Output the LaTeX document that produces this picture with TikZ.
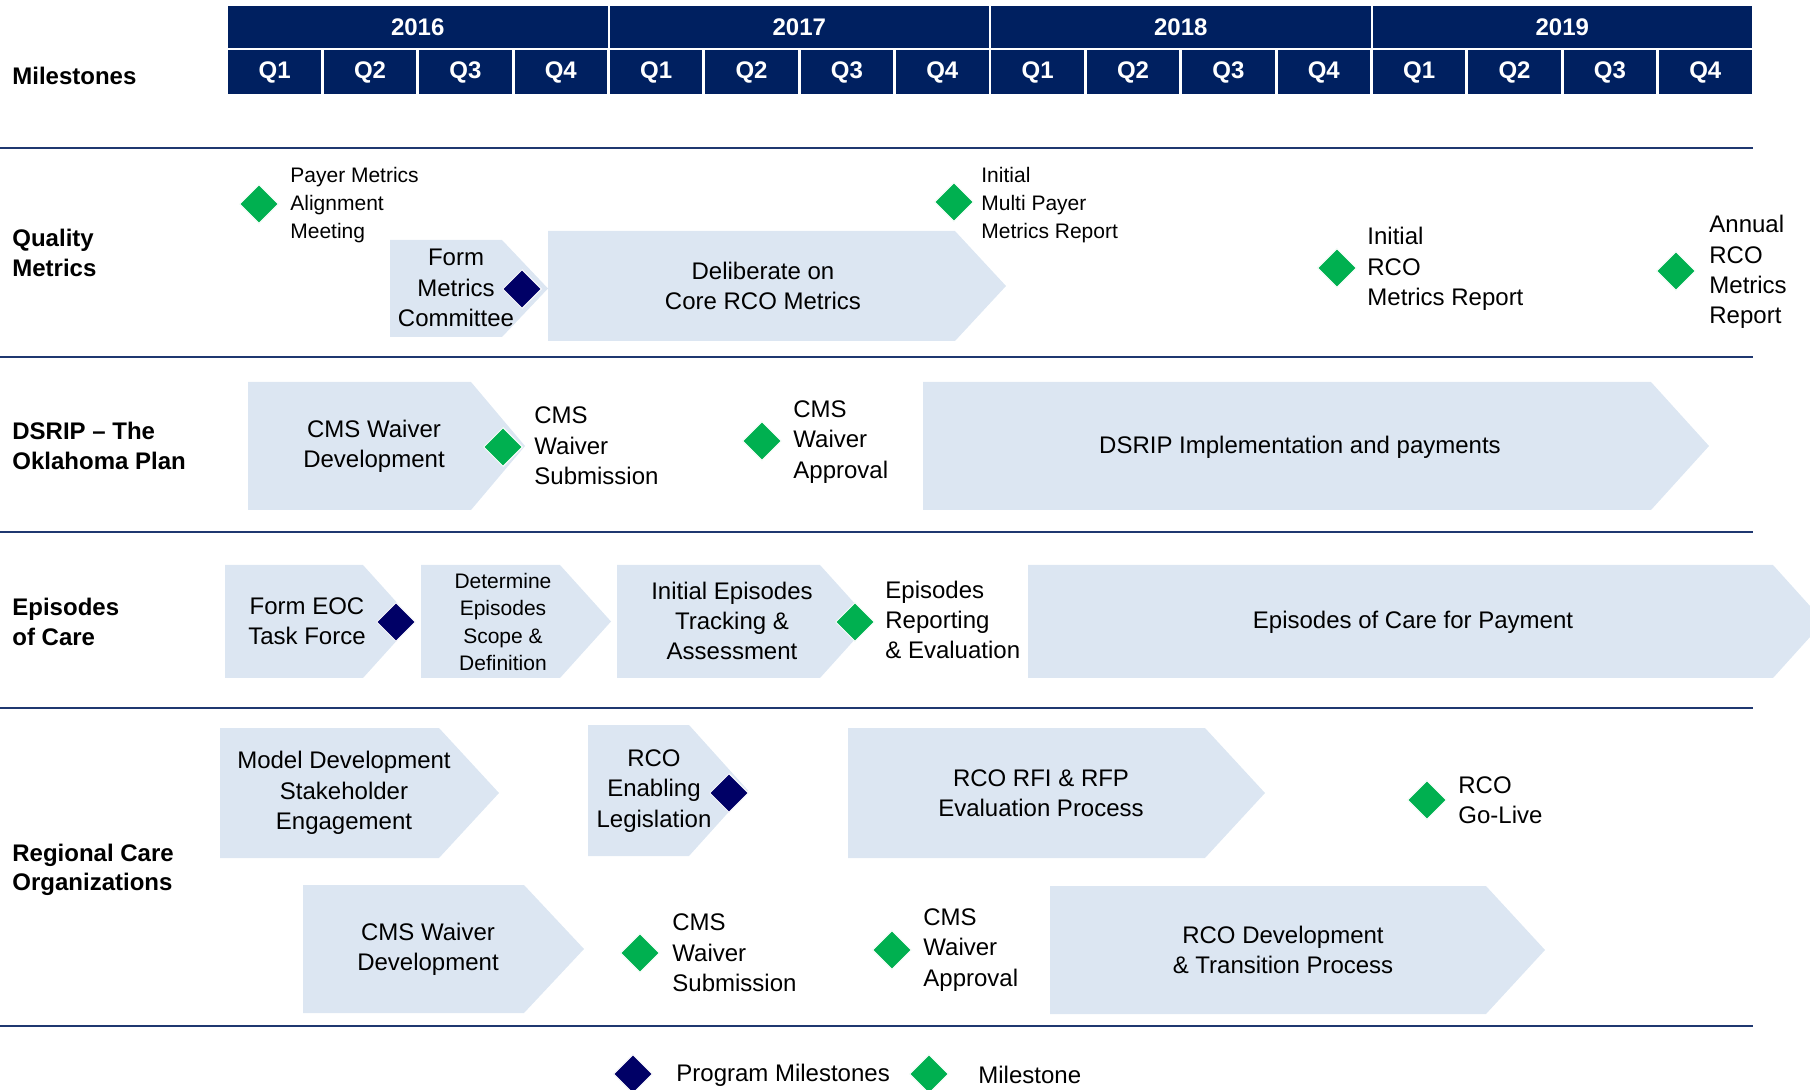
\documentclass[tikz,border=0pt]{standalone}
\usepackage{fontspec}
\setmainfont{Liberation Sans}
\usepackage{tikz}
\usetikzlibrary{shapes.geometric}
\definecolor{hdrblue}{RGB}{0,32,96}
\definecolor{lineblue}{RGB}{31,56,112}
\definecolor{pmblue}{RGB}{0,0,102}
\definecolor{msgreen}{RGB}{0,176,80}
\definecolor{chevfill}{RGB}{220,230,242}
% left, corner, tip, top, bottom
\newcommand{\chev}[5]{\fill[chevfill] (#1,#4) -- (#2,#4) -- (#3,{(#4+#5)/2}) -- (#2,#5) -- (#1,#5) -- cycle;}
\begin{document}
\begin{tikzpicture}[x=0.5pt,y=-0.5pt,
		txt/.style={align=center,font=\fontsize{12}{15.2}\selectfont,inner sep=0pt},
		small/.style={txt,font=\fontsize{10.5}{13.8}\selectfont},
		mstxt/.style={txt,anchor=west,align=left},
		mssmall/.style={small,anchor=west,align=left},
		rowlbl/.style={anchor=west,align=left,inner sep=0pt,font=\bfseries\fontsize{12}{14.75}\selectfont},
		ms/.style={diamond,fill=msgreen,draw=white,line width=0.5pt,minimum width=19.5pt,minimum height=19.5pt,inner sep=0pt},
		pms/.style={ms,fill=pmblue},
		sep/.style={lineblue,line width=1.4pt},
		yrcell/.style={fill=hdrblue,text=white,font=\bfseries\fontsize{12}{14}\selectfont,minimum width=189.75pt,minimum height=21pt,inner sep=0pt},
		qcell/.style={yrcell,minimum width=46.2pt,minimum height=22pt}]
		\useasboundingbox (0,0) rectangle (1810,1090);

		% header
		\foreach \yr [count=\i from 0] in {2016,2017,2018,2019}{
			\node[yrcell] (y\yr) at ({227+381.5*(\i+0.5)},27) {\yr};
			\foreach \q in {1,...,4}
				\node[qcell] (q\yr\q) at ({227+381.5*\i+95.375*(\q-0.5)},72) {Q\q};
		}
		\node[rowlbl] (milestones) at (12,76) {Milestones};
		\foreach \ly in {148,357,532,708,1026}
			\draw[sep] (0,\ly) -- (1753,\ly);

		% row labels
		\node[rowlbl] (quality) at (12,253) {Quality\\Metrics};
		\node[rowlbl] (dsrip) at (12,446) {DSRIP -- The\\Oklahoma Plan};
		\node[rowlbl] (episodes) at (12,622) {Episodes\\of Care};
		\node[rowlbl] (regional) at (12,870) {Regional Care\\Organizations};

		% quality metrics
		\chev{390}{502}{548}{240}{337}
		\node[txt] (formmc) at (456,288) {Form\\Metrics\\Committee};
		\chev{548}{955}{1006}{231}{341}
		\node[txt] (delib) at (763,286) {Deliberate on\\Core RCO Metrics};
		\node[pms] (dformmc) at (522,289) {};
		\node[ms] (dpayer) at (259,204) {};
		\node[mssmall] (payer) at (290,205) {Payer Metrics\\Alignment\\Meeting};
		\node[ms] (dmulti) at (954,202) {};
		\node[mssmall] (multi) at (981,205) {Initial\\Multi Payer\\Metrics Report};
		\node[ms] (drcorep) at (1337,268) {};
		\node[mstxt] (rcorep) at (1367,269) {Initial\\RCO\\Metrics Report};
		\node[ms] (dannual) at (1676,271) {};
		\node[mstxt] (annual) at (1709,272) {Annual\\RCO\\Metrics\\Report};

		% dsrip
		\chev{248}{471}{525}{382}{510}
		\node[txt] (cmsdev) at (374,446) {CMS Waiver\\Development};
		\chev{923}{1651}{1709}{382}{510}
		\node[txt] (dsripimp) at (1300,447) {DSRIP Implementation and payments};
		\node[ms] (dcmssub) at (503,447) {};
		\node[mstxt] (cmssub) at (534,446) {CMS\\Waiver\\Submission};
		\node[ms] (dcmsapp) at (762,441) {};
		\node[mstxt] (cmsapp) at (793,442) {CMS\\Waiver\\Approval};

		% episodes of care
		\chev{225}{363}{414}{565}{678}
		\node[txt] (eoctf) at (307,621) {Form EOC\\Task Force};
		\chev{421}{560}{611}{565}{678}
		\node[small] (deteps) at (503,622) {Determine\\Episodes\\Scope \&\\Definition};
		\chev{617}{820}{871}{565}{678}
		\node[txt] (initeps) at (732,621) {Initial Episodes\\Tracking \&\\Assessment};
		\chev{1028}{1773}{1824}{565}{678}
		\node[txt] (eocpay) at (1413,622) {Episodes of Care for Payment};
		\node[pms] (deoctf) at (396,622) {};
		\node[ms] (deprep) at (855,622) {};
		\node[mstxt] (eprep) at (885,620) {Episodes\\Reporting\\\& Evaluation};

		% regional care organizations
		\chev{220}{439}{499}{728}{858}
		\node[txt] (modeldev) at (344,793) {Model Development\\Stakeholder\\Engagement};
		\chev{588}{689}{748}{725}{856}
		\node[txt] (rcoleg) at (654,791) {RCO\\Enabling\\Legislation};
		\node[pms] (drcoleg) at (729,793) {};
		\chev{848}{1205}{1265}{728}{858}
		\node[txt] (rcorfi) at (1041,793) {RCO RFI \& RFP\\Evaluation Process};
		\node[ms] (dgolive) at (1427,800) {};
		\node[mstxt] (golive) at (1458,800) {RCO\\Go-Live};
		\chev{303}{524}{584}{885}{1013}
		\node[txt] (cmsdev2) at (428,949) {CMS Waiver\\Development};
		\node[ms] (dcmssub2) at (640,953) {};
		\node[mstxt] (cmssub2) at (672,953) {CMS\\Waiver\\Submission};
		\node[ms] (dcmsapp2) at (892,950) {};
		\node[mstxt] (cmsapp2) at (923,950) {CMS\\Waiver\\Approval};
		\chev{1050}{1486}{1545}{886}{1014}
		\node[txt] (rcodev) at (1283,950) {RCO Development\\\& Transition Process};

		% legend
		\node[pms] (lgpms) at (633,1074) {};
		\node[mstxt] (lgpmstxt) at (676,1075) {Program Milestones};
		\node[ms] (lgms) at (929,1074) {};
		\node[mstxt] (lgmstxt) at (978,1075) {Milestone};
\end{tikzpicture}
\end{document}
